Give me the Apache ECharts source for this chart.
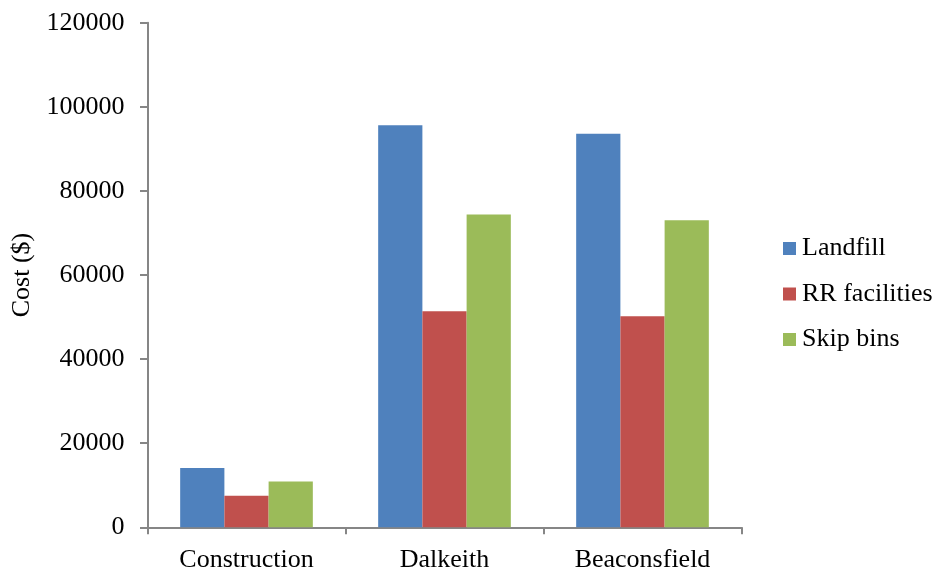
<!DOCTYPE html>
<html>
<head>
<meta charset="utf-8">
<script src="https://cdn.jsdelivr.net/npm/echarts@6/dist/echarts.min.js"></script>
<style>
  html, body { margin: 0; padding: 0; background: #fff; }
  #main { width: 939px; height: 573px; }
</style>
</head>
<body>
<div id="main"></div>
<script>
// data
var sites = ['Construction', 'Dalkeith', 'Beaconsfield'];
var landfill = [14100, 95600, 93600];
var rrFacilities = [7500, 51400, 50200];
var skipBins = [10900, 74400, 73000];

var myChart = echarts.init(document.getElementById('main'));
var font = 'Liberation Serif';
var axisGrey = '#868686';

var option = {
    animation: false,
    textStyle: { fontFamily: font },
    grid: { left: 147.5, right: 197.5, top: 22.7, bottom: 45.7, outerBoundsMode: 'none', containLabel: false },
    legend: {
        orient: 'vertical',
        left: 778,
        top: 230.5,
        itemWidth: 13,
        itemHeight: 13,
        itemGap: 19.5,
        icon: 'rect',
        textStyle: { fontFamily: font, fontSize: 26, color: '#000', lineHeight: 26, padding: [0, 0, 0, 1] },
        data: ['Landfill', 'RR facilities', 'Skip bins']
    },
    xAxis: {
        type: 'category',
        data: sites,
        axisLine: { lineStyle: { color: axisGrey, width: 2 } },
        axisTick: { show: true, length: 7, lineStyle: { color: axisGrey, width: 2 } },
        axisLabel: { color: '#000', fontFamily: font, fontSize: 26, margin: 20 }
    },
    yAxis: {
        type: 'value',
        min: 0,
        max: 120000,
        interval: 20000,
        name: 'Cost ($)',
        nameLocation: 'middle',
        nameGap: 103,
        nameTextStyle: { color: '#000', fontFamily: font, fontSize: 26 },
        axisLine: { show: true, lineStyle: { color: axisGrey, width: 2 } },
        axisTick: { show: true, length: 7.5, lineStyle: { color: axisGrey, width: 2 } },
        axisLabel: {
            color: '#000', fontFamily: font, fontSize: 26, margin: 23,
            formatter: function (v) { return String(v); }
        },
        splitLine: { show: false }
    },
    series: [
        {
            name: 'Landfill',
            type: 'bar',
            data: landfill,
            barGap: '0%',
            barCategoryGap: '33%',
            itemStyle: { color: '#4F81BD' }
        },
        {
            name: 'RR facilities',
            type: 'bar',
            data: rrFacilities,
            itemStyle: { color: '#C0504D' }
        },
        {
            name: 'Skip bins',
            type: 'bar',
            data: skipBins,
            itemStyle: { color: '#9BBB59' }
        }
    ]
};

myChart.setOption(option, true);
</script>
</body>
</html>
